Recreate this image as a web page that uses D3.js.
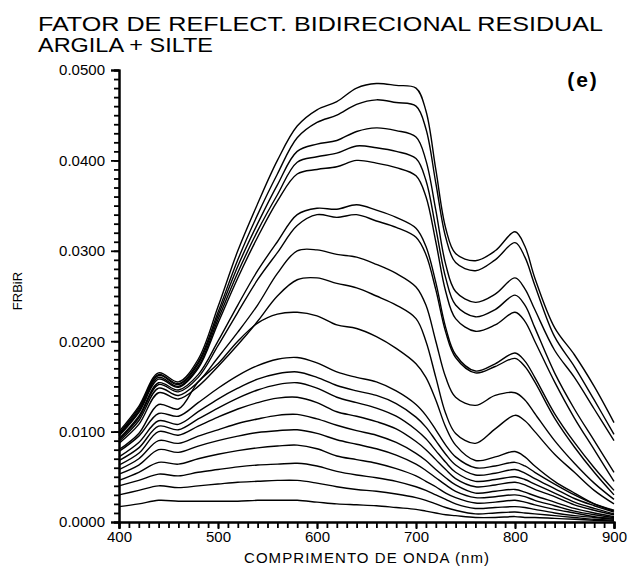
<!DOCTYPE html>
<html>
<head>
<meta charset="utf-8">
<script src="https://cdnjs.cloudflare.com/ajax/libs/d3/7.8.5/d3.min.js"></script>
<style>
  body { margin: 0; background: #fff; }
  text { font-family: "Liberation Sans", Arial, sans-serif; fill: #000; }
</style>
</head>
<body>
<div id="chart"></div>
<script>
(function(){

// Data

let wavelengths = [400, 420, 440, 460, 480, 500, 520, 540, 560, 580, 600, 620, 640, 660, 680,
  700, 710, 720, 730, 740, 760, 780, 800, 810, 820, 840, 860, 880, 900]

let c1 = [.0100, .0128, .0165, .0155, .0180, .0238, .0300, .0352, .0400, .0438, .0456, .0465, .0480, .0485, .0483,
  .0480, .0455, .0390, .0325, .0297, .0289, .0300, .0321, .0305, .0270, .0215, .0185, .0150, .0110]
let c2 = [.0098, .0126, .0163, .0153, .0177, .0232, .0290, .0340, .0385, .0425, .0442, .0450, .0462, .0467, .0464,
  .0460, .0435, .0375, .0315, .0287, .0278, .0290, .0309, .0293, .0262, .0205, .0172, .0135, .0097]
let c3 = [.0097, .0124, .0162, .0152, .0175, .0228, .0283, .0330, .0373, .0410, .0418, .0422, .0432, .0436, .0433,
  .0426, .0400, .0345, .0285, .0255, .0243, .0252, .0270, .0258, .0235, .0190, .0160, .0125, .0090]
let c4 = [.0096, .0122, .0160, .0150, .0172, .0224, .0276, .0322, .0362, .0398, .0404, .0408, .0416, .0414, .0410,
  .0402, .0378, .0325, .0270, .0240, .0227, .0235, .0251, .0240, .0215, .0165, .0125, .0090, .0055]
let c5 = [.0095, .0121, .0158, .0149, .0170, .0220, .0270, .0315, .0355, .0385, .0390, .0393, .0400, .0397, .0392,
  .0383, .0360, .0310, .0255, .0225, .0211, .0218, .0232, .0222, .0200, .0155, .0115, .0080, .0045]
let c6 = [.0092, .0117, .0154, .0146, .0163, .0200, .0240, .0278, .0310, .0340, .0347, .0346, .0351, .0345, .0337,
  .0325, .0305, .0265, .0215, .0185, .0167, .0175, .0187, .0178, .0160, .0120, .0088, .0060, .0035]
let c7 = [.0091, .0115, .0152, .0144, .0160, .0195, .0232, .0268, .0298, .0328, .0340, .0337, .0340, .0333, .0326,
  .0315, .0296, .0257, .0210, .0182, .0165, .0172, .0181, .0172, .0155, .0115, .0083, .0055, .0030]
let c8 = [.0089, .0112, .0148, .0140, .0155, .0182, .0210, .0240, .0275, .0300, .0301, .0296, .0293, .0285, .0275,
  .0260, .0240, .0200, .0160, .0138, .0129, .0140, .0143, .0135, .0120, .0090, .0065, .0043, .0025]
let c9 = [.0087, .0108, .0143, .0136, .0150, .0172, .0196, .0222, .0250, .0268, .0270, .0264, .0259, .0250, .0240,
  .0225, .0200, .0160, .0120, .0098, .0087, .0103, .0118, .0112, .0100, .0075, .0055, .0035, .0020]
let c10 = [.0080, .0098, .0130, .0125, .0155, .0175, .0200, .0220, .0230, .0232, .0228, .0218, .0214, .0205, .0192,
  .0175, .0160, .0135, .0105, .0085, .0068, .0072, .0078, .0072, .0062, .0045, .0032, .0020, .0012]
let c11 = [.0078, .0095, .0120, .0117, .0132, .0148, .0162, .0173, .0180, .0182, .0176, .0166, .0160, .0155, .0145,
  .0130, .0118, .0102, .0085, .0072, .0060, .0062, .0066, .0062, .0055, .0042, .0030, .0020, .0013]
let c12 = [.0072, .0088, .0112, .0108, .0122, .0136, .0148, .0158, .0164, .0166, .0160, .0151, .0145, .0140, .0131,
  .0116, .0105, .0090, .0075, .0063, .0052, .0054, .0058, .0054, .0048, .0037, .0026, .0018, .0011]
let c13 = [.0068, .0082, .0106, .0102, .0114, .0126, .0137, .0146, .0152, .0154, .0148, .0138, .0132, .0126, .0117,
  .0102, .0092, .0079, .0066, .0055, .0045, .0047, .0050, .0047, .0042, .0032, .0022, .0015, .0009]
let c14 = [.0063, .0076, .0100, .0096, .0106, .0116, .0125, .0132, .0137, .0138, .0132, .0122, .0117, .0111, .0103,
  .0089, .0080, .0069, .0058, .0048, .0039, .0041, .0044, .0041, .0036, .0028, .0019, .0013, .0008]
let c15 = [.0058, .0070, .0090, .0087, .0095, .0102, .0109, .0114, .0118, .0119, .0114, .0107, .0101, .0096, .0088,
  .0076, .0068, .0058, .0049, .0041, .0032, .0034, .0036, .0033, .0029, .0022, .0015, .0010, .0006]
let c16 = [.0053, .0063, .0080, .0077, .0084, .0090, .0095, .0099, .0101, .0102, .0098, .0091, .0086, .0081, .0074,
  .0064, .0057, .0049, .0041, .0034, .0027, .0028, .0030, .0028, .0024, .0018, .0012, .0008, .0005]
let c17 = [.0046, .0055, .0066, .0064, .0070, .0075, .0079, .0082, .0084, .0085, .0081, .0073, .0069, .0065, .0059,
  .0051, .0045, .0039, .0032, .0027, .0021, .0022, .0024, .0022, .0019, .0014, .0010, .0006, .0004]
let c18 = [.0040, .0046, .0053, .0051, .0055, .0058, .0061, .0063, .0064, .0065, .0062, .0056, .0052, .0049, .0045,
  .0039, .0035, .0030, .0025, .0020, .0015, .0016, .0017, .0016, .0014, .0010, .0007, .0005, .0003]
let c19 = [.0030, .0035, .0040, .0038, .0040, .0042, .0044, .0045, .0046, .0046, .0043, .0039, .0036, .0034, .0031,
  .0027, .0024, .0020, .0016, .0013, .0009, .0010, .0011, .0010, .0009, .0007, .0005, .0003, .0002]
let c20 = [.0017, .0020, .0024, .0023, .0023, .0023, .0023, .0024, .0024, .0024, .0022, .0020, .0019, .0018, .0016,
  .0014, .0012, .0010, .0008, .0007, .0005, .0005, .0006, .0005, .0005, .0004, .0003, .0002, .0001]

let curves = [c1, c2, c3, c4, c5, c6, c7, c8, c9, c10, c11, c12, c13, c14, c15, c16, c17, c18, c19, c20]

let yTicks = [0, 0.01, 0.02, 0.03, 0.04, 0.05]
let xTicks = [400, 500, 600, 700, 800, 900]

let titleLines = ['FATOR DE REFLECT. BIDIRECIONAL RESIDUAL', 'ARGILA + SILTE']

// Sizes

let margin = { top: 70, left: 119, right: 17, bottom: 51 }
let width = 631 - margin.left - margin.right
let height = 573 - margin.top - margin.bottom

let svg = d3.select('#chart')
  .append('svg')
  .attr('width', 631)
  .attr('height', 573)

let g = svg.append('g')
  .attr('transform', 'translate(' + margin.left + ',' + margin.top + ')')

// Scales

let xPositionScale = d3.scaleLinear().domain([400, 900]).range([0, width])
let yPositionScale = d3.scaleLinear().domain([0, 0.05]).range([height, 0])

// Lines

let line = d3.line()
  .x(function(d, i){ return xPositionScale(wavelengths[i]) })
  .y(function(d){ return yPositionScale(d) })
  .curve(d3.curveCatmullRom.alpha(0.5))

g.selectAll('.spectrum')
  .data(curves)
  .enter().append('path')
  .attr('class', 'spectrum')
  .attr('d', line)
  .attr('fill', 'none')
  .attr('stroke', '#000')
  .attr('stroke-width', 1.4)

// Axes

let yMinor = d3.axisLeft(yPositionScale)
  .tickValues(d3.range(0, 0.0505, 0.001))
  .tickSize(5)
  .tickFormat('')
g.append('g').attr('class', 'axis y-minor').call(yMinor)

let yAxis = d3.axisLeft(yPositionScale)
  .tickValues(yTicks)
  .tickSize(8)
  .tickPadding(6)
  .tickFormat(d3.format('.4f'))
g.append('g').attr('class', 'axis y-axis').call(yAxis)

let xMinor = d3.axisBottom(xPositionScale)
  .tickValues(d3.range(400, 901, 10))
  .tickSize(6)
  .tickFormat('')
g.append('g').attr('class', 'axis x-minor')
  .attr('transform', 'translate(0,' + height + ')')
  .call(xMinor)

let xAxis = d3.axisBottom(xPositionScale)
  .tickValues(xTicks)
  .tickSize(7)
  .tickPadding(2)
g.append('g').attr('class', 'axis x-axis')
  .attr('transform', 'translate(0,' + height + ')')
  .call(xAxis)

svg.selectAll('.axis path').attr('stroke', '#000').attr('stroke-width', 2)
svg.selectAll('.axis line').attr('stroke', '#000').attr('stroke-width', 1.8)
svg.selectAll('.axis text').style('font-size', '15px').attr('fill', '#000')

// Titles

svg.append('text')
  .attr('x', 38).attr('y', 31)
  .attr('textLength', 565)
  .attr('lengthAdjust', 'spacingAndGlyphs')
  .style('font-size', '21px')
  .text(titleLines[0])

svg.append('text')
  .attr('x', 38).attr('y', 52)
  .attr('textLength', 175)
  .attr('lengthAdjust', 'spacingAndGlyphs')
  .style('font-size', '21px')
  .text(titleLines[1])

svg.append('text')
  .attr('x', 583).attr('y', 87)
  .attr('text-anchor', 'middle')
  .style('font-size', '21px')
  .style('font-weight', 'bold')
  .style('letter-spacing', '2px')
  .text('(e)')

svg.append('text')
  .attr('x', margin.left + width / 2).attr('y', 563)
  .attr('text-anchor', 'middle')
  .attr('textLength', 245)
  .style('font-size', '15px')
  .text('COMPRIMENTO DE ONDA (nm)')

svg.append('text')
  .attr('transform', 'translate(22,291) rotate(-90)')
  .attr('text-anchor', 'middle')
  .style('font-size', '13px')
  .text('FRBiR')

})()
</script>
</body>
</html>
